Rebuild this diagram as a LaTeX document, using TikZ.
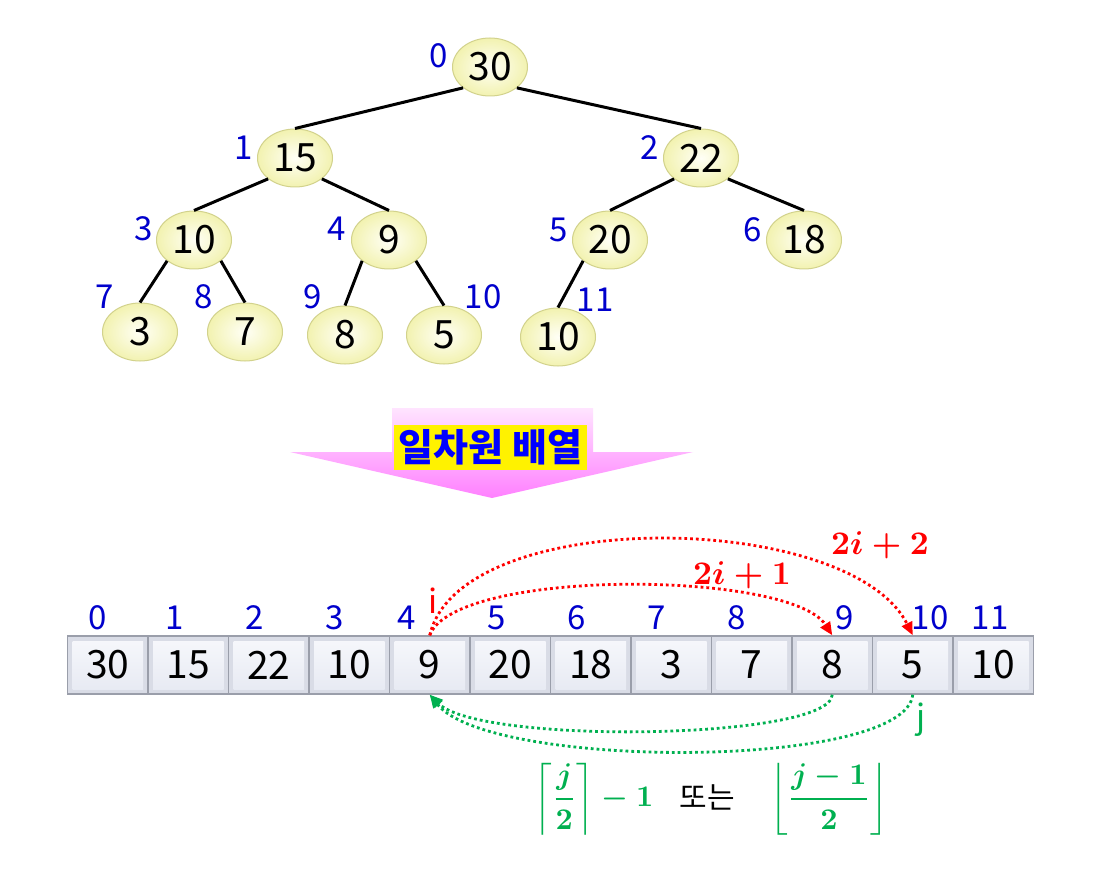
\documentclass[tikz,border=0pt]{standalone}
\usepackage{amsmath}
\usepackage{fontspec}
\setmainfont{Noto Sans CJK KR}
\usetikzlibrary{shapes.geometric,arrows.meta}
\definecolor{idxblue}{HTML}{0000CC}
\definecolor{redc}{HTML}{FF0000}
\definecolor{greenc}{HTML}{00B050}
\definecolor{nodein}{HTML}{FFFFF6}
\definecolor{nodeout}{HTML}{F2F2B0}
\definecolor{nodeborder}{HTML}{D2D28C}
\definecolor{cellborder}{HTML}{9A9EAA}
\definecolor{cellbevel}{HTML}{D9DCE6}
\definecolor{celltop}{HTML}{F7F8FC}
\definecolor{cellbot}{HTML}{E6E9F2}
\definecolor{pinktop}{HTML}{FFE4FF}
\definecolor{pinkbot}{HTML}{FF80FF}
\tikzset{
  tn/.style={ellipse, draw=nodeborder, line width=1pt, inner color=nodein, outer color=nodeout,
    minimum width=75pt, minimum height=58pt, inner sep=0pt, font=\fontsize{39}{40}\selectfont},
  edge/.style={line width=3pt, black},
  ti/.style={text=idxblue, inner sep=0pt, font=\fontsize{33}{36}\selectfont},
  cell/.style={draw=cellborder, line width=1.5pt, fill=cellbevel, minimum width=80.5pt,
    minimum height=58pt, inner sep=0pt, font=\fontsize{39}{40}\selectfont,
    path picture={\shade[top color=celltop, bottom color=cellbot]
      ([shift={(5pt,-5pt)}]path picture bounding box.north west) rectangle
      ([shift={(-5pt,5pt)}]path picture bounding box.south east);}},
  redarr/.style={redc, line width=2.8pt, dash pattern=on 2.8pt off 3pt, -{Triangle[length=13pt,width=11pt]}},
  greenarr/.style={greenc, line width=2.8pt, dash pattern=on 2.8pt off 3pt, -{Triangle[length=13pt,width=11pt]}},
  redlab/.style={text=redc, inner sep=0pt, font=\normalsize\boldmath},
  greenlab/.style={text=greenc, inner sep=0pt, font=\normalsize\boldmath},
}
\begin{document}
\begin{tikzpicture}[x=1pt,y=-1pt]
\fill[white] (0,0) rectangle (1106,885);
\useasboundingbox (0,0) rectangle (1106,885);

% tree
\node[tn] (n0) at (490,67) {30};
\node[tn] (n1) at (295,158) {15};
\node[tn] (n2) at (701,158) {22};
\node[tn] (n3) at (194,240) {10};
\node[tn] (n4) at (389,240) {9};
\node[tn] (n5) at (610,240) {20};
\node[tn] (n6) at (804,240) {18};
\node[tn] (n7) at (140,332) {3};
\node[tn] (n8) at (245,332) {7};
\node[tn] (n9) at (345,335) {8};
\node[tn] (n10) at (444,335) {5};
\node[tn] (n11) at (558,337) {10};

\draw[edge] (n0.south west) -- (n1.north);
\draw[edge] (n0.south east) -- (n2.north);
\draw[edge] (n1.south west) -- (n3.north);
\draw[edge] (n1.south east) -- (n4.north);
\draw[edge] (n2.south west) -- (n5.north);
\draw[edge] (n2.south east) -- (n6.north);
\draw[edge] (n3.south west) -- (n7.north);
\draw[edge] (n3.south east) -- (n8.north);
\draw[edge] (n4.south west) -- (n9.north);
\draw[edge] (n4.south east) -- (n10.north);
\draw[edge] (n5.south west) -- (n11.north);

\node[ti] (l0) at (439,56) {0};
\node[ti] (l1) at (244,148) {1};
\node[ti] (l2) at (650,148) {2};
\node[ti] (l3) at (144,229) {3};
\node[ti] (l4) at (337,229) {4};
\node[ti] (l5) at (559,230) {5};
\node[ti] (l6) at (753,230) {6};
\node[ti] (l7) at (105,297) {7};
\node[ti] (l8) at (204,297) {8};
\node[ti] (l9) at (313,297) {9};
\node[ti] (l10) at (483,297) {10};
\node[ti] (l11) at (595,300) {11};

% pink arrow
\shade[top color=pinktop, bottom color=pinkbot]
  (392,408) -- (593,408) -- (593,452) -- (693,452) -- (492,498) -- (290,452) -- (392,452) -- cycle;
\node[fill=yellow, text=blue, minimum width=193pt, minimum height=45pt, inner sep=0pt,
  font=\fontsize{38}{40}\selectfont\bfseries] (title) at (490.5,447.5) {일차원 배열};

% array
\foreach \v [count=\k from 0] in {30,15,22,10,9,20,18,3,7,8,5,10}
  \node[cell] (c\k) at ({107.75+80.5*\k},665) {\v};

\node[ti] (a0) at (98,618) {0};
\node[ti] (a1) at (175,618) {1};
\node[ti] (a2) at (255,618) {2};
\node[ti] (a3) at (335,618) {3};
\node[ti] (a4) at (407,618) {4};
\node[ti] (a5) at (497,618) {5};
\node[ti] (a6) at (577,618) {6};
\node[ti] (a7) at (657,618) {7};
\node[ti] (a8) at (737,618) {8};
\node[ti] (a9) at (845,618) {9};
\node[ti] (a10) at (930,618) {10};
\node[ti] (a11) at (990,618) {11};

\node[text=redc, inner sep=0pt, font=\fontsize{33}{36}\selectfont] (ilab) at (433,601) {i};
\node[text=greenc, inner sep=0pt, font=\fontsize{33}{36}\selectfont] (jlab) at (921,720) {j};

\draw[redarr] (c4.north) .. controls (455,568) and (790,570) .. (c9.north);
\draw[redarr] (c4.north) .. controls (460,505) and (850,510) .. (c10.north);
\node[redlab] (f1) at (742,575) {\scalebox{3.3}{$2i+1$}};
\node[redlab] (f2) at (880,545) {\scalebox{3.3}{$2i+2$}};

\draw[greenarr] (c9.south) .. controls (830,740) and (480,745) .. (c4.south);
\draw[greenarr] (c10.south) .. controls (905,770) and (490,770) .. (c4.south);

\node[greenlab] (g1) at (594,799) {\scalebox{3}{$\left\lceil\dfrac{j}{2}\right\rceil-1$}};
\node[inner sep=0pt, font=\fontsize{30}{34}\selectfont] (orw) at (707,797) {또는};
\node[greenlab] (g2) at (829,799) {\scalebox{3}{$\left\lfloor\dfrac{j-1}{2}\right\rfloor$}};
\end{tikzpicture}
\end{document}
